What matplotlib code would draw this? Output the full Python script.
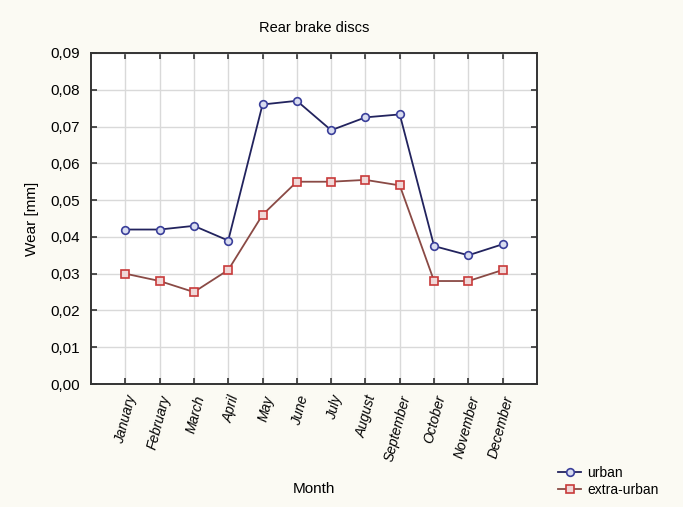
import matplotlib.pyplot as plt
from matplotlib.ticker import FuncFormatter, MultipleLocator

plt.rcParams['font.family'] = ['Liberation Sans', 'DejaVu Sans']

MONTHS = ["January", "February", "March", "April", "May", "June", "July",
          "August", "September", "October", "November", "December"]
URBAN = [0.042, 0.042, 0.043, 0.039, 0.076, 0.077, 0.069, 0.0725, 0.0733,
         0.0375, 0.035, 0.038]
EXTRA_URBAN = [0.030, 0.028, 0.025, 0.031, 0.046, 0.055, 0.055, 0.0555,
               0.054, 0.028, 0.028, 0.031]

BG = "#fbfaf3"

fig = plt.figure(figsize=(6.83, 5.07), dpi=100, facecolor=BG)
ax = fig.add_axes([91 / 683, 1 - 384 / 507, (537 - 91) / 683, (384 - 53) / 507])
ax.set_facecolor("white")

x = list(range(len(MONTHS)))
ax.plot(x, URBAN, color="#22235e", lw=1.3, marker="o", ms=5.5,
        mfc="#d8dcf0", mec="#3a3f9a", mew=1.2, label="urban", zorder=3)
ax.plot(x, EXTRA_URBAN, color="#8a4a45", lw=1.3, marker="s", ms=5.5,
        mfc="#f0d8d8", mec="#c83a3a", mew=1.2, label="extra-urban", zorder=3)

ax.set_xlim(-1, 12)
ax.set_ylim(0, 0.09)
ax.yaxis.set_major_locator(MultipleLocator(0.01))
ax.yaxis.set_major_formatter(FuncFormatter(lambda v, p: f"{v:.2f}".replace(".", ",")))
ax.set_xticks(x)
ax.set_xticklabels(MONTHS, rotation=75, ha="right", rotation_mode="anchor",
                   fontsize=10, style="italic")
ax.grid(True, color="#d9d9d9", lw=1.0)
ax.set_axisbelow(True)

ax.tick_params(axis="both", direction="in", length=4, width=1.2,
               top=True, right=True, color="#333333")
ax.tick_params(axis="y", labelsize=11, pad=8)
ax.tick_params(axis="x", pad=7)
for s in ax.spines.values():
    s.set_linewidth(1.4)
    s.set_color("#333333")

ax.set_title("Rear brake discs", fontsize=10.5, pad=15)
ax.set_ylabel("Wear [mm]", fontsize=11, labelpad=8)
ax.set_xlabel("Month", fontsize=11, labelpad=14)

fig.legend(loc="lower left", bbox_to_anchor=(548 / 683, 0.0), frameon=False,
           fontsize=10, handlelength=1.7, handletextpad=0.4,
           labelspacing=0.25, borderaxespad=0.3, facecolor=BG)

fig.savefig("out.png", dpi=100, facecolor=BG)
